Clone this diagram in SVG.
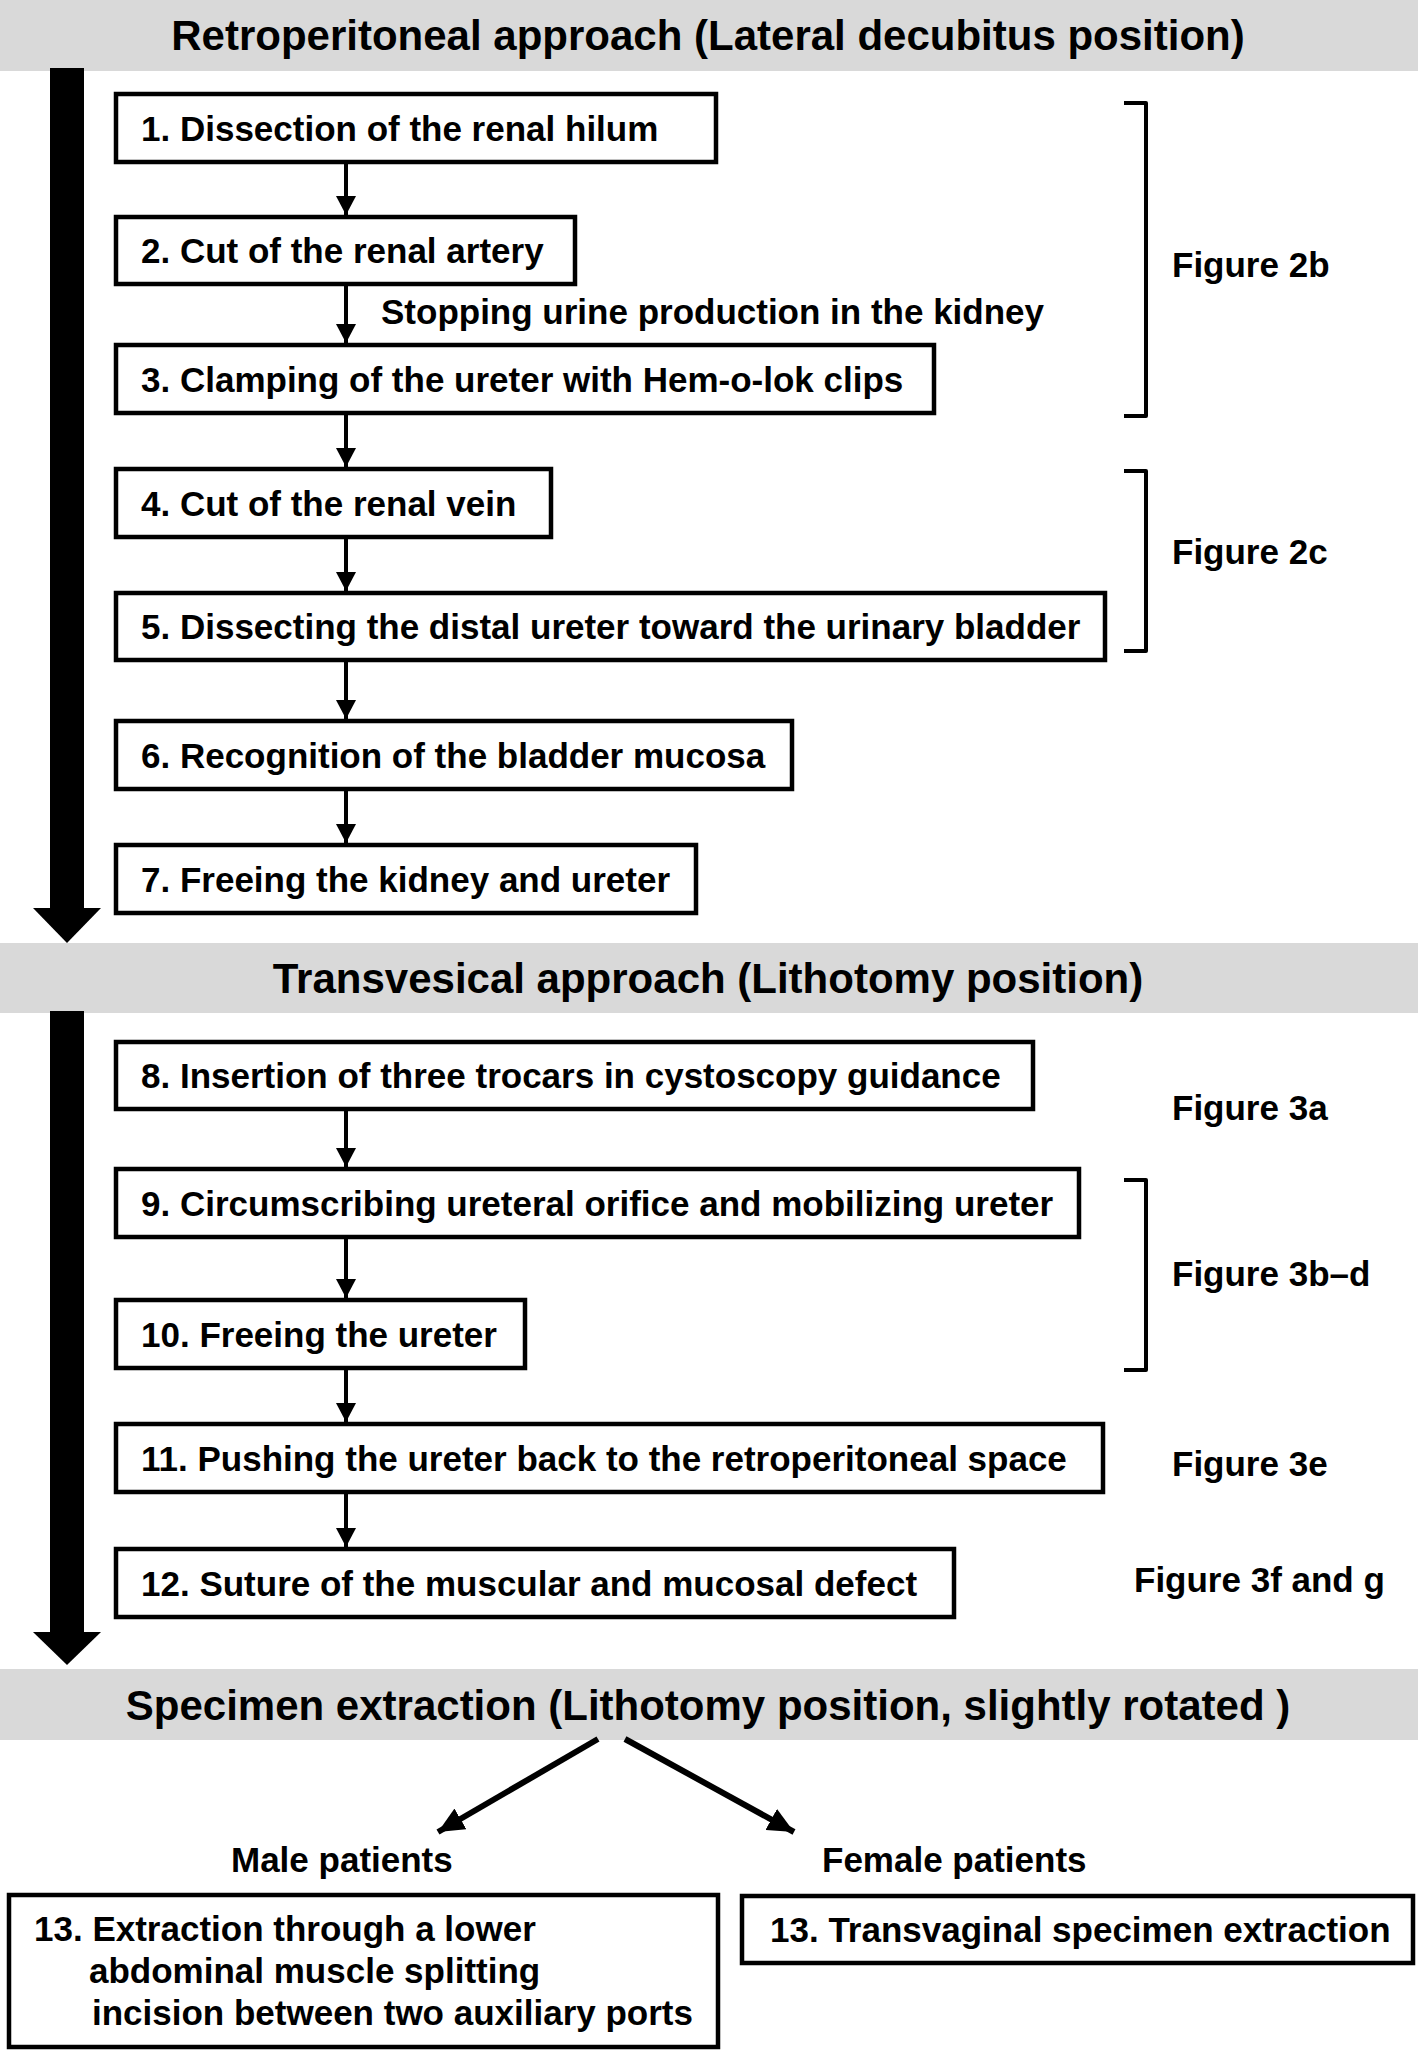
<svg xmlns="http://www.w3.org/2000/svg" width="1418" height="2052" viewBox="0 0 1418 2052">
<defs>
<style>
text{font-family:"Liberation Sans",Arial,Helvetica,sans-serif;font-weight:bold;fill:#000}
.hd{font-size:42px;text-anchor:middle}
.t{font-size:35px}
.band{fill:#d9d9d9}
.box{fill:#fff;stroke:#000;stroke-width:4.5}
.con{stroke:#000;stroke-width:4;fill:none}
.con2{stroke:#000;stroke-width:6;fill:none}
.br{stroke:#000;stroke-width:4;fill:none;stroke-linejoin:round}
</style>
<marker id="ah" viewBox="0 0 19 20" refX="19" refY="10" markerWidth="19" markerHeight="20" markerUnits="userSpaceOnUse" orient="auto">
<path d="M0,0 L19,10 L0,20 z" fill="#000"/>
</marker>
<marker id="ah2" viewBox="0 0 26 24" refX="26" refY="12" markerWidth="26" markerHeight="24" markerUnits="userSpaceOnUse" orient="auto">
<path d="M0,0 L26,12 L0,24 z" fill="#000"/>
</marker>
</defs>
<rect width="1418" height="2052" fill="#fff"/>

<g id="header1">
<rect class="band" x="0" y="0" width="1418" height="71"/>
<text class="hd" x="708" y="50">Retroperitoneal approach (Lateral decubitus position)</text>
</g>
<g id="header2">
<rect class="band" x="0" y="943" width="1418" height="70"/>
<text class="hd" x="708" y="993">Transvesical approach (Lithotomy position)</text>
</g>
<g id="header3">
<rect class="band" x="0" y="1669" width="1418" height="71"/>
<text class="hd" x="708" y="1720">Specimen extraction (Lithotomy position, slightly rotated )</text>
</g>

<g id="bigarrow1">
<rect x="50" y="68" width="34" height="842" fill="#000"/>
<polygon points="33,908 101,908 67,943" fill="#000"/>
</g>
<g id="bigarrow2">
<rect x="50" y="1011" width="34" height="623" fill="#000"/>
<polygon points="33,1632 101,1632 67,1665" fill="#000"/>
</g>

<g id="n1"><rect class="box" x="116" y="94" width="600" height="68"/><text class="t" x="141" y="140.5">1. Dissection of the renal hilum</text></g>
<g id="n2"><rect class="box" x="116" y="217" width="459" height="67"/><text class="t" x="141" y="263">2. Cut of the renal artery</text></g>
<g id="n3"><rect class="box" x="116" y="345" width="818" height="68"/><text class="t" x="141" y="391.5">3. Clamping of the ureter with Hem-o-lok clips</text></g>
<g id="n4"><rect class="box" x="116" y="469" width="435" height="68"/><text class="t" x="141" y="515.5">4. Cut of the renal vein</text></g>
<g id="n5"><rect class="box" x="116" y="593" width="989" height="67"/><text class="t" x="141" y="639">5. Dissecting the distal ureter toward the urinary bladder</text></g>
<g id="n6"><rect class="box" x="116" y="721" width="676" height="68"/><text class="t" x="141" y="767.5">6. Recognition of the bladder mucosa</text></g>
<g id="n7"><rect class="box" x="116" y="845" width="580" height="68"/><text class="t" x="141" y="891.5">7. Freeing the kidney and ureter</text></g>
<g id="n8"><rect class="box" x="116" y="1042" width="917" height="67"/><text class="t" x="141" y="1088">8. Insertion of three trocars in cystoscopy guidance</text></g>
<g id="n9"><rect class="box" x="116" y="1169" width="963" height="68"/><text class="t" x="141" y="1215.5">9. Circumscribing ureteral orifice and mobilizing ureter</text></g>
<g id="n10"><rect class="box" x="116" y="1300" width="409" height="68"/><text class="t" x="141" y="1346.5">10. Freeing the ureter</text></g>
<g id="n11"><rect class="box" x="116" y="1424" width="987" height="68"/><text class="t" x="141" y="1470.5">11. Pushing the ureter back to the retroperitoneal space</text></g>
<g id="n12"><rect class="box" x="116" y="1549" width="838" height="68"/><text class="t" x="141" y="1595.5">12. Suture of the muscular and mucosal defect</text></g>
<g id="n13m"><rect class="box" x="9" y="1895" width="709" height="152"/>
<text class="t" x="34" y="1941">13. Extraction through a lower</text>
<text class="t" x="89" y="1983">abdominal muscle splitting</text>
<text class="t" x="92" y="2025">incision between two auxiliary ports</text></g>
<g id="n13f"><rect class="box" x="742" y="1896" width="671" height="67"/><text class="t" x="770" y="1942">13. Transvaginal specimen extraction</text></g>

<g id="labels">
<text class="t" x="381" y="324">Stopping urine production in the kidney</text>
<text class="t" x="1172" y="277">Figure 2b</text>
<text class="t" x="1172" y="564">Figure 2c</text>
<text class="t" x="1172" y="1120">Figure 3a</text>
<text class="t" x="1172" y="1286">Figure 3b–d</text>
<text class="t" x="1172" y="1476">Figure 3e</text>
<text class="t" x="1134" y="1592">Figure 3f and g</text>
<text class="t" x="231" y="1872">Male patients</text>
<text class="t" x="822" y="1872">Female patients</text>
</g>

<g id="brackets">
<path class="br" d="M1124,103 H1146 V416 H1124"/>
<path class="br" d="M1124,471 H1146 V651 H1124"/>
<path class="br" d="M1124,1180 H1146 V1370 H1124"/>
</g>

<g id="connectors">
<line class="con" x1="346" y1="164" x2="346" y2="215" marker-end="url(#ah)"/>
<line class="con" x1="346" y1="286" x2="346" y2="343" marker-end="url(#ah)"/>
<line class="con" x1="346" y1="415" x2="346" y2="467" marker-end="url(#ah)"/>
<line class="con" x1="346" y1="539" x2="346" y2="591" marker-end="url(#ah)"/>
<line class="con" x1="346" y1="662" x2="346" y2="719" marker-end="url(#ah)"/>
<line class="con" x1="346" y1="791" x2="346" y2="843" marker-end="url(#ah)"/>
<line class="con" x1="346" y1="1111" x2="346" y2="1167" marker-end="url(#ah)"/>
<line class="con" x1="346" y1="1239" x2="346" y2="1298" marker-end="url(#ah)"/>
<line class="con" x1="346" y1="1370" x2="346" y2="1422" marker-end="url(#ah)"/>
<line class="con" x1="346" y1="1494" x2="346" y2="1547" marker-end="url(#ah)"/>
<line class="con2" x1="598" y1="1739" x2="438" y2="1832" marker-end="url(#ah2)"/>
<line class="con2" x1="625" y1="1739" x2="794" y2="1832" marker-end="url(#ah2)"/>
</g>
</svg>
